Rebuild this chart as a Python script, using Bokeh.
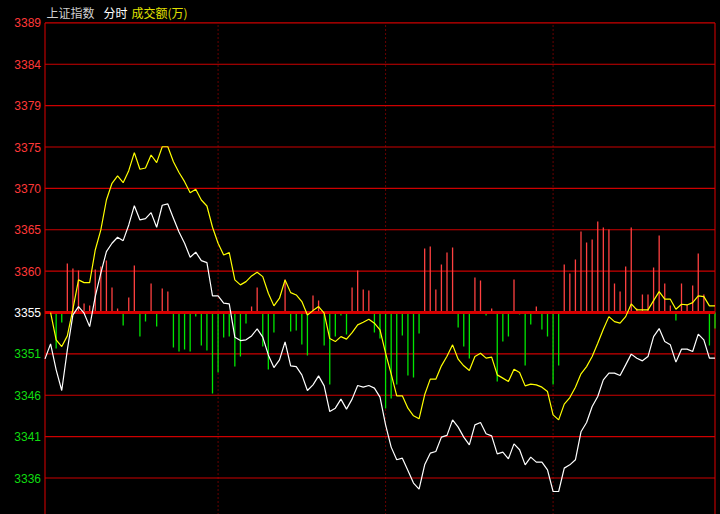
import numpy as np
from bokeh.plotting import figure
from bokeh.models import Range1d, ColumnDataSource
from bokeh.core.properties import value
from bokeh.embed import file_html
from bokeh.resources import INLINE

# ---------------- data ----------------
prev_close = 3355.35
grid_step = 4.81
tick_steps = [-4, -3, -2, -1, 0, 1, 2, 3, 4, 5, 6, 7]
tick_labels = ["3336", "3341", "3346", "3351", "3355", "3360",
               "3365", "3370", "3375", "3379", "3384", "3389"]
session_marks = [31, 61, 91]          # hour separators (slot index)
title_parts = ["上证指数", "分时", "成交额(万)"]

price = [
    3349.96, 3351.70, 3348.68, 3346.28, 3351.00, 3355.07, 3356.04, 3355.27, 3353.71, 3357.20,
    3359.92, 3362.43, 3363.40, 3364.10, 3363.70, 3365.53, 3367.77, 3366.11, 3366.26, 3366.96,
    3365.26, 3367.82, 3367.97, 3366.31, 3364.71, 3363.40, 3361.77, 3362.36, 3361.38, 3361.15,
    3357.28, 3357.28, 3356.43, 3356.35, 3352.48, 3352.09, 3352.17, 3352.63, 3353.44, 3352.48,
    3350.42, 3348.95, 3349.84, 3351.93, 3349.15, 3349.06, 3348.10, 3346.28, 3346.94, 3347.98,
    3346.82, 3343.84, 3344.23, 3345.28, 3344.12, 3345.28, 3346.86, 3346.67, 3346.86, 3346.56,
    3345.51, 3342.29, 3339.70, 3338.23, 3338.42, 3336.98, 3335.52, 3334.82, 3337.64, 3339.00,
    3339.19, 3340.86, 3341.07, 3342.87, 3342.02, 3340.86, 3339.97, 3342.29, 3342.56, 3341.25,
    3341.01, 3338.92, 3339.12, 3338.34, 3340.08, 3339.39, 3337.64, 3338.54, 3337.96, 3337.96,
    3337.06, 3334.54, 3334.54, 3337.26, 3337.64, 3338.23, 3341.48, 3342.56, 3344.42, 3345.58,
    3347.52, 3348.30, 3348.30, 3348.02, 3349.26, 3350.51, 3350.04, 3349.73, 3350.23, 3352.55,
    3353.48, 3351.97, 3351.59, 3349.58, 3351.09, 3351.09, 3350.81, 3352.83, 3352.17, 3350.04,
    3350.04,
]

avg_price = [
    3355.34, 3352.17, 3351.39, 3352.63, 3355.73, 3359.14, 3358.82, 3358.82, 3362.62, 3364.95,
    3368.43, 3370.37, 3371.22, 3370.44, 3371.84, 3373.93, 3372.00, 3372.15, 3373.66, 3372.77,
    3374.62, 3374.62, 3372.88, 3371.63, 3370.56, 3369.28, 3369.68, 3368.43, 3367.73, 3365.26,
    3363.40, 3362.04, 3362.31, 3359.14, 3358.56, 3358.94, 3359.60, 3360.03, 3359.52, 3357.59,
    3356.12, 3357.01, 3359.14, 3357.66, 3357.39, 3356.62, 3355.07, 3355.57, 3356.04, 3355.27,
    3352.32, 3351.97, 3352.55, 3352.25, 3353.01, 3353.91, 3354.22, 3354.57, 3354.11, 3353.33,
    3350.62, 3348.22, 3345.66, 3345.66, 3344.23, 3343.34, 3342.99, 3345.78, 3347.60, 3347.60,
    3349.15, 3350.27, 3351.59, 3349.92, 3349.15, 3348.60, 3350.23, 3350.62, 3350.04, 3350.16,
    3348.10, 3347.72, 3347.32, 3348.76, 3348.37, 3346.82, 3347.02, 3346.94, 3346.67, 3346.16,
    3343.45, 3342.87, 3344.70, 3345.46, 3346.67, 3348.22, 3349.06, 3350.23, 3351.78, 3353.41,
    3354.87, 3354.29, 3354.11, 3354.87, 3356.35, 3355.65, 3355.65, 3355.65, 3356.73, 3357.78,
    3356.90, 3356.90, 3355.73, 3356.31, 3356.23, 3356.50, 3357.28, 3357.20, 3356.12, 3356.12,
]

flow = [
    0, 0, -36, -10, 49, 44, 42, 9, 7, 43,
    46, 52, 25, 4, -13, 15, 47, -24, -9, 29,
    -14, 24, 21, -35, -39, -37, -39, -4, -33, -38,
    -81, -60, -25, -24, -54, -44, -11, 6, 25, -34,
    -57, -20, 1, 33, -19, -18, -32, -43, 17, 12,
    -33, -72, -24, -3, -22, 25, 42, 23, 22, -20,
    -26, -96, -86, -72, -23, -63, -65, -21, 64, 66,
    23, 48, 60, 65, -15, -34, -46, 35, 32, -3,
    4, -69, -29, -24, 33, -2, -53, -12, 6, -17,
    -24, -72, -53, 48, 39, 53, 81, 70, 73, 91,
    85, 83, 29, 21, 46, 85, 4, 18, 18, 45,
    77, 29, 7, -8, 29, 8, 27, 59, 18, -33,
    -16,
]

# ---------------- layout (page pixels) ----------------
PAGE_OFF = 0
W, H = 720, 514
LEFT_PX, RIGHT_PX = 44.5, 714.5
N_SLOTS = 120
PPX = (RIGHT_PX - LEFT_PX) / N_SLOTS
ZERO_PY = 312.0            # page y of prev_close line
GRID_PX = 41.375           # pixels between grid lines
PPY = GRID_PX / grid_step

x_start = -(LEFT_PX - PAGE_OFF) / PPX
x_end = x_start + W / PPX
y_end = prev_close + (ZERO_PY - PAGE_OFF) / PPY
y_start = y_end - H / PPY
flow_end = ZERO_PY - PAGE_OFF
flow_start = flow_end - H


def px_x(page_x):
    return (page_x - LEFT_PX) / PPX


def px_y(page_y):
    return y_end - (page_y - PAGE_OFF) / PPY


GRID_COLOR = "#cc0000"
RED_TXT = "#ff3838"
GREEN_TXT = "#10dc10"

p = figure(width=W, height=H, output_backend="svg", toolbar_location=None,
           x_range=Range1d(x_start, x_end), y_range=Range1d(y_start, y_end),
           x_axis_type=None, y_axis_type=None,
           min_border_left=0, min_border_right=0, min_border_top=0, min_border_bottom=0)
p.extra_y_ranges = {"flow": Range1d(flow_start, flow_end)}
p.background_fill_color = "black"
p.border_fill_color = "black"
p.outline_line_color = None

tick_vals = [prev_close + k * grid_step for k in tick_steps]
top_val = tick_vals[-1]

# horizontal grid lines (not the zero line)
g_vals = [v for k, v in zip(tick_steps, tick_vals) if k != 0]
p.segment(x0=[0] * len(g_vals), x1=[N_SLOTS] * len(g_vals), y0=g_vals, y1=g_vals,
          line_color=GRID_COLOR, line_width=1.1)

# frame borders
p.segment(x0=[0, N_SLOTS], x1=[0, N_SLOTS], y0=[y_start, y_start], y1=[top_val, top_val],
          line_color=GRID_COLOR, line_width=1.1)

# hour separators
p.segment(x0=session_marks, x1=session_marks,
          y0=[y_start] * len(session_marks), y1=[top_val] * len(session_marks),
          line_color="#d00000", line_width=1, line_dash="1 3")

# flow bars
idx = np.arange(len(flow))
flow_arr = np.array(flow, dtype=float)
bar_src = ColumnDataSource(dict(
    x=idx, y0=np.zeros(len(flow)), y1=flow_arr,
    c=["#ff4040" if v > 0 else "#00e600" for v in flow]))
p.segment(x0="x", x1="x", y0="y0", y1="y1", line_color="c", line_width=1.3,
          source=bar_src, y_range_name="flow")

# zero (previous close) line
p.segment(x0=[0], x1=[N_SLOTS], y0=[prev_close], y1=[prev_close],
          line_color="#d80000", line_width=3)

# price lines
p.line(np.arange(1, len(avg_price) + 1), avg_price, line_color="#ffff00", line_width=1.2)
p.line(np.arange(len(price)), price, line_color="#ffffff", line_width=1.2)

# tick labels
lab_colors = [RED_TXT if k > 0 else ("#ffffff" if k == 0 else GREEN_TXT) for k in tick_steps]
p.text(x=[px_x(40.5)] * len(tick_vals), y=tick_vals, text=tick_labels, text_color=lab_colors,
       text_align="right", text_baseline="middle", text_font=value("Liberation Sans"),
       text_font_size="12px")

# header texts
title_x = [px_x(46), px_x(103), px_x(131)]
title_col = ["#d0d0d0", "#ffffff", "#e0e000"]
p.text(x=title_x, y=[px_y(12)] * 3, text=title_parts, text_color=title_col,
       text_align="left", text_baseline="middle", text_font=value("Noto Sans CJK SC"),
       text_font_size="12px")

html = file_html(p, INLINE)
html = html.replace("</head>", "<style>html,body{background:#000000;}</style></head>", 1)
open("out.html", "w").write(html)
